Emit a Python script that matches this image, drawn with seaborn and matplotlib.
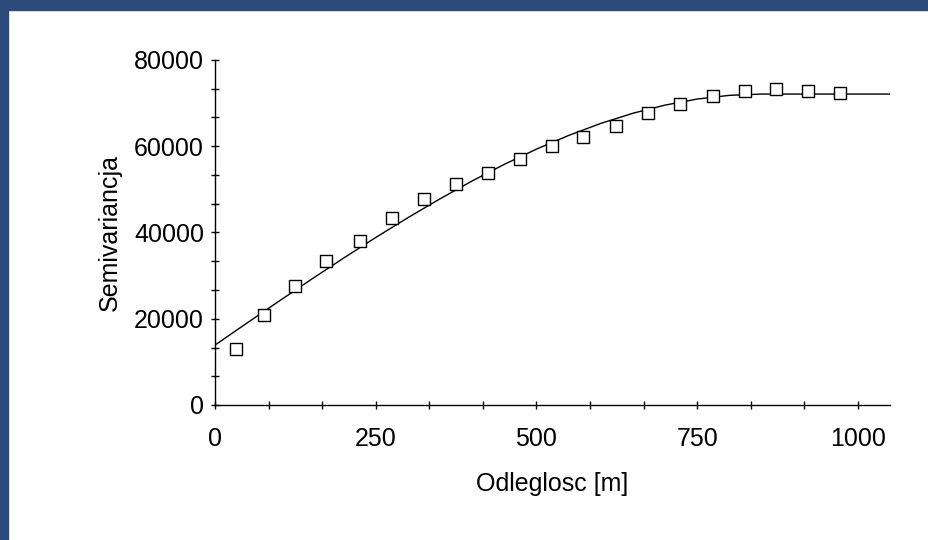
import numpy as np
import pandas as pd
import seaborn as sns
import matplotlib.pyplot as plt
from matplotlib.patches import Rectangle
from matplotlib.ticker import MultipleLocator

odl = [33, 77, 124, 173, 225, 275, 325, 375, 425, 474,
       524, 573, 624, 673, 724, 774, 824, 872, 922, 972]
semiwar = [13000, 20900, 27500, 33500, 38100, 43400, 47800, 51250, 53900, 57000,
           60100, 62200, 64700, 67600, 69800, 71650, 72900, 73200, 72900, 72300]

# model curve
model_x = [0, 50, 100, 150, 200, 250, 300, 350, 400, 450, 500, 550,
           600, 650, 700, 750, 800, 850, 900, 950, 1000, 1050]
model_y = [13900, 19030, 24120, 29150, 34060, 38840, 43430, 47810, 51950, 55800, 59330, 62500,
           65290, 67650, 69540, 70940, 71800, 72100, 72100, 72100, 72100, 72100]

pts = pd.DataFrame({"x": odl, "y": semiwar})
mod = pd.DataFrame({"x": model_x, "y": model_y})

sns.set_style("ticks")
plt.rcParams['font.family'] = ['Liberation Sans', 'DejaVu Sans']
plt.rcParams['text.color'] = 'black'
plt.rcParams['axes.labelcolor'] = 'black'
plt.rcParams['xtick.color'] = 'black'
plt.rcParams['ytick.color'] = 'black'

fig = plt.figure(figsize=(9.29, 5.4), dpi=100)
fig.patch.set_facecolor("white")
fig.patches.append(Rectangle((0, 1 - 10 / 540), 1, 10 / 540, transform=fig.transFigure,
                             color="#2c4a7a", zorder=0))
fig.patches.append(Rectangle((0, 0), 8 / 929, 1, transform=fig.transFigure,
                             color="#2c4a7a", zorder=0))

ax = fig.add_axes([215 / 929, 135 / 540, 675 / 929, 345 / 540])
sns.lineplot(data=mod, x="x", y="y", ax=ax, color="black", linewidth=1.0)
sns.scatterplot(data=pts, x="x", y="y", ax=ax, marker="s", s=64,
                facecolor="white", edgecolor="black", linewidth=1.0, zorder=3)

ax.set_xlim(0, 1050)
ax.set_ylim(0, 80000)
ax.xaxis.set_major_locator(MultipleLocator(250))
ax.xaxis.set_minor_locator(MultipleLocator(250 / 3))
ax.yaxis.set_major_locator(MultipleLocator(20000))
ax.yaxis.set_minor_locator(MultipleLocator(20000 / 3))
ax.tick_params(which="both", direction="inout", length=6, width=1, color="black",
               labelsize=18, labelcolor="black")
ax.tick_params(axis="x", pad=13)
ax.tick_params(axis="y", pad=5)
for s in ["top", "right"]:
    ax.spines[s].set_visible(False)
for s in ["left", "bottom"]:
    ax.spines[s].set_linewidth(1)
    ax.spines[s].set_color("black")

ax.set_xlabel("Odleglosc [m]", fontsize=18, labelpad=15, color="black")
ax.set_ylabel("Semivariancja", fontsize=18, labelpad=9, color="black")

fig.savefig("out.png", dpi=100)
